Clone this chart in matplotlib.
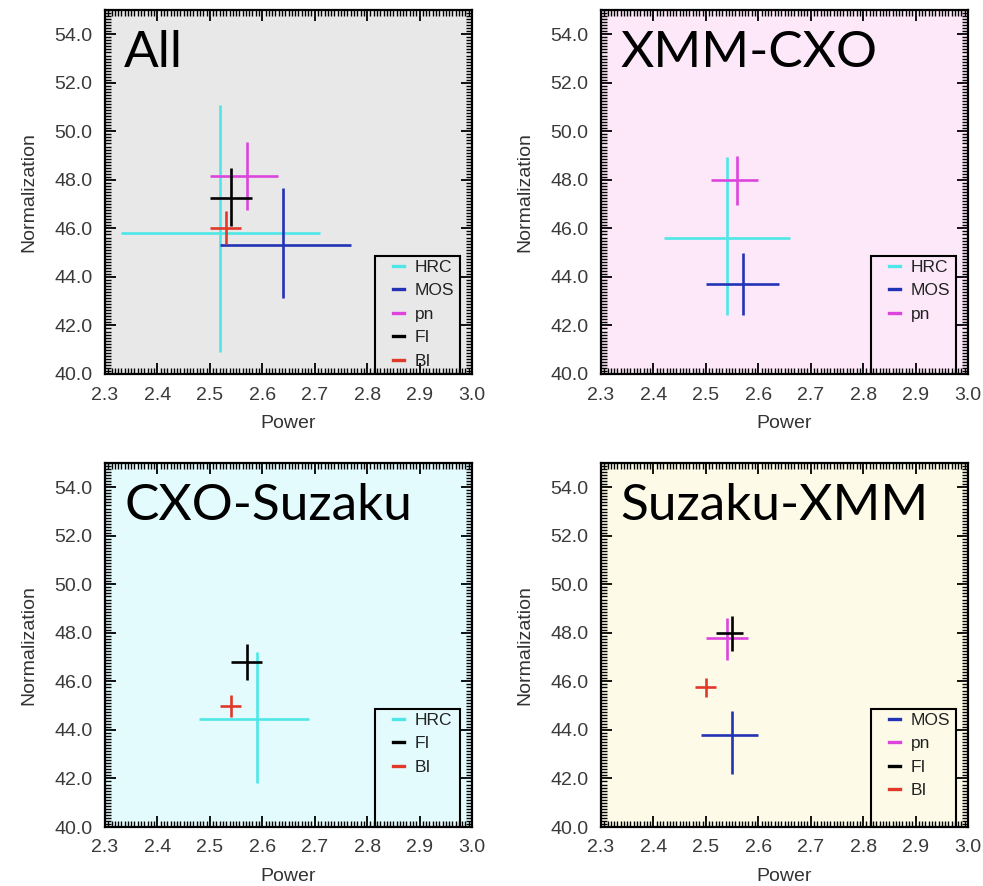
import numpy as np
import matplotlib
matplotlib.use("Agg")
import matplotlib.pyplot as plt
from matplotlib.ticker import MultipleLocator, FormatStrFormatter
from matplotlib.patches import Rectangle

plt.rcParams['font.family'] = ['Liberation Sans', 'DejaVu Sans']

# cores dos instrumentos
cores = {'HRC': '#4ee6e6', 'MOS': '#2333b5', 'pn': '#dd44dd', 'FI': '#000000', 'BI': '#e0392a'}

# painel "All"
all_inst = ['HRC', 'MOS', 'pn', 'FI', 'BI']
all_pow = [2.52, 2.64, 2.57, 2.54, 2.53]
all_pow_lo = [2.33, 2.52, 2.50, 2.50, 2.50]
all_pow_hi = [2.71, 2.77, 2.63, 2.58, 2.56]
all_norm = [45.8, 45.3, 48.15, 47.25, 46.0]
all_norm_lo = [40.9, 43.15, 46.75, 46.1, 45.35]
all_norm_hi = [51.1, 47.65, 49.55, 48.5, 46.7]

# painel "XMM-CXO"
xc_inst = ['HRC', 'MOS', 'pn']
xc_pow = [2.54, 2.57, 2.56]
xc_pow_lo = [2.42, 2.50, 2.51]
xc_pow_hi = [2.66, 2.64, 2.60]
xc_norm = [45.6, 43.7, 48.0]
xc_norm_lo = [42.45, 42.45, 46.95]
xc_norm_hi = [48.95, 45.0, 49.0]

# painel "CXO-Suzaku"
cs_inst = ['HRC', 'FI', 'BI']
cs_pow = [2.59, 2.57, 2.54]
cs_pow_lo = [2.48, 2.54, 2.52]
cs_pow_hi = [2.69, 2.60, 2.56]
cs_norm = [44.45, 46.8, 45.0]
cs_norm_lo = [41.8, 46.05, 44.55]
cs_norm_hi = [47.2, 47.55, 45.45]

# painel "Suzaku-XMM"
sx_inst = ['MOS', 'pn', 'FI', 'BI']
sx_pow = [2.55, 2.54, 2.55, 2.50]
sx_pow_lo = [2.49, 2.50, 2.52, 2.48]
sx_pow_hi = [2.60, 2.58, 2.57, 2.52]
sx_norm = [43.8, 47.8, 48.0, 45.75]
sx_norm_lo = [42.2, 46.9, 47.25, 45.35]
sx_norm_hi = [44.8, 48.6, 48.7, 46.15]

W, H = 983, 886
fig = plt.figure(figsize=(W / 100, H / 100), dpi=100)


def painel(px0, py0, px1, py1, titulo, fundo, inst, pw, pw_lo, pw_hi, nm, nm_lo, nm_hi):
    ax = fig.add_axes([px0 / W, 1 - py1 / H, (px1 - px0) / W, (py1 - py0) / H])
    ax.set_facecolor(fundo)
    handles = []
    for i, nome in enumerate(inst):
        c = cores[nome]
        xe = [[pw[i] - pw_lo[i]], [pw_hi[i] - pw[i]]]
        ye = [[nm[i] - nm_lo[i]], [nm_hi[i] - nm[i]]]
        ax.errorbar([pw[i]], [nm[i]], xerr=xe, yerr=ye, fmt='none', ecolor=c,
                    elinewidth=1.9, capsize=0)
        h, = ax.plot([], [], color=c, lw=2.4, label=nome)
        handles.append(h)

    ax.set_xlim(2.3, 3.0)
    ax.set_ylim(40, 55)
    ax.set_xticks(np.arange(2.3, 3.01, 0.1))
    ax.set_yticks(np.arange(40, 54.1, 2))
    ax.xaxis.set_minor_locator(MultipleLocator(0.1 / 16))
    ax.yaxis.set_minor_locator(MultipleLocator(2 / 16))
    ax.yaxis.set_major_formatter(FormatStrFormatter('%.1f'))
    ax.xaxis.set_major_formatter(FormatStrFormatter('%.1f'))
    ax.tick_params(which='both', direction='in', top=True, right=True,
                   labelsize=14, labelcolor='#3a3a3a')
    ax.tick_params(which='major', length=8, width=1.3, pad=9)
    ax.tick_params(which='minor', length=4, width=1.0)
    for s in ax.spines.values():
        s.set_linewidth(1.6)

    ax.set_xlabel('Power', fontsize=14, color='#333333', labelpad=8)
    ax.set_ylabel('Normalization', fontsize=14, color='#333333', labelpad=12)

    # titulo grande dentro do painel
    ax.text(0.052, 0.843, titulo, transform=ax.transAxes, fontsize=37,
            family=['Lato', 'DejaVu Sans'], va='baseline', ha='left')

    # caixa da legenda com tamanho fixo
    bx0, bx1, by1 = 0.736, 0.967, 0.324
    ax.add_patch(Rectangle((bx0, 0), bx1 - bx0, by1, transform=ax.transAxes,
                           fill=False, edgecolor='black', lw=1.5, zorder=5))
    ax.legend(handles=handles, loc='upper left', bbox_to_anchor=(bx0 + 0.035, by1 + 0.004),
              frameon=False, fontsize=12.5, handlelength=0.6, handletextpad=0.65,
              labelspacing=0.48, borderaxespad=0, borderpad=0.3, labelcolor='#222222')
    return ax


painel(105, 10, 472, 374, 'All', '#e8e8e8',
       all_inst, all_pow, all_pow_lo, all_pow_hi, all_norm, all_norm_lo, all_norm_hi)
painel(601, 10, 968, 374, 'XMM-CXO', '#fce8f8',
       xc_inst, xc_pow, xc_pow_lo, xc_pow_hi, xc_norm, xc_norm_lo, xc_norm_hi)
painel(105, 463, 472, 827, 'CXO-Suzaku', '#e4fbfd',
       cs_inst, cs_pow, cs_pow_lo, cs_pow_hi, cs_norm, cs_norm_lo, cs_norm_hi)
painel(601, 463, 968, 827, 'Suzaku-XMM', '#fdfbe8',
       sx_inst, sx_pow, sx_pow_lo, sx_pow_hi, sx_norm, sx_norm_lo, sx_norm_hi)

fig.savefig('out.png', dpi=100)
